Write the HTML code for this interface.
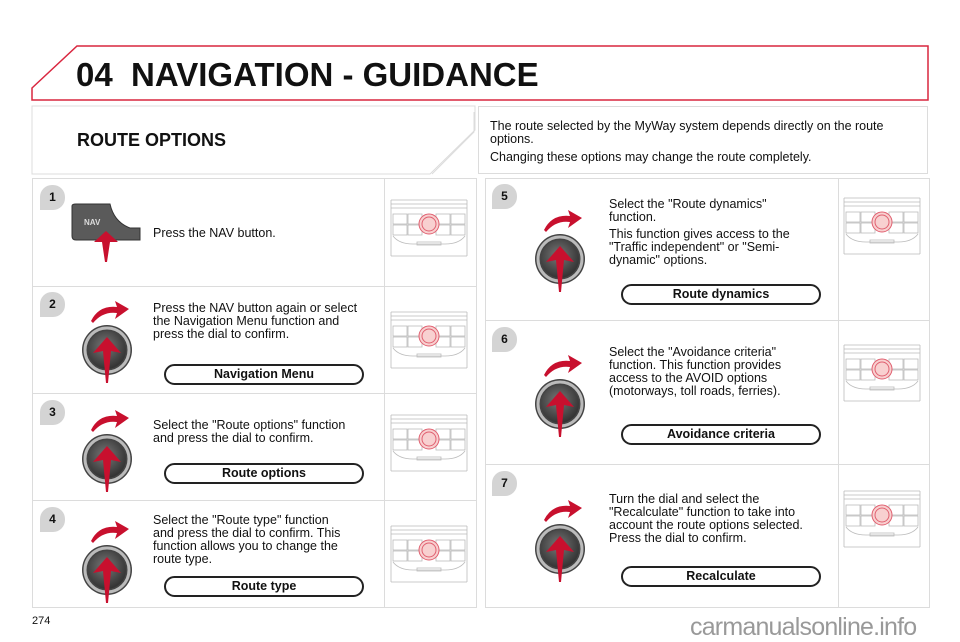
<!DOCTYPE html>
<html><head><meta charset="utf-8"><style>
*{margin:0;padding:0;box-sizing:border-box}
body{width:960px;height:640px;background:#fff;position:relative;overflow:hidden;font-family:"Liberation Sans",Arial,sans-serif;color:#111}
.a{position:absolute}
.box{position:absolute;border:1px solid #dcdcdc}
.t{position:absolute;font-size:12.5px;line-height:13px}
.pill{position:absolute;border:2px solid #222;border-radius:11px;font-weight:bold;font-size:12.5px;text-align:center;line-height:17px;height:21px}
.num{position:absolute;width:25px;height:25px;background:#d4d4d4;border-radius:12px 12px 12px 0;font-weight:bold;font-size:12px;text-align:center;line-height:24px}
.hl{position:absolute;height:1px;background:#dcdcdc}
.vl{position:absolute;width:1px;background:#dcdcdc}
</style></head><body>
<svg class="a" style="left:0;top:0" width="960" height="640">
<defs>
<radialGradient id="g" cx="0.45" cy="0.4" r="0.6"><stop offset="0" stop-color="#777"/><stop offset="1" stop-color="#333"/></radialGradient>
<symbol id="dial" viewBox="0 0 60 90" width="60" height="90">
<path d="M14 28 Q22 12 40 14 L38 8 L52 16 L38 26 L40 20 Q26 18 16 30 Z" fill="#c8102e"/>
<circle cx="30" cy="57" r="25" fill="#444"/>
<circle cx="30" cy="57" r="22" fill="none" stroke="#bbb" stroke-width="3"/>
<circle cx="30" cy="57" r="19" fill="url(#g)"/>
<path d="M30 44 L44 60 L34 58 L31 90 L29 90 L26 58 L16 60 Z" fill="#c8102e"/>
</symbol>
<symbol id="con" viewBox="0 0 80 60" width="80" height="60">
<g fill="none" stroke="#bbb" stroke-width="0.8">
<path d="M2 2 H78 M2 6 H78 M2 10 H78 M2 2 V58 M78 2 V58 M2 58 H78"/>
<rect x="4" y="16" width="14" height="10"/><rect x="19" y="16" width="14" height="10"/><rect x="47" y="16" width="14" height="10"/><rect x="62" y="16" width="14" height="10"/>
<rect x="4" y="27" width="14" height="10"/><rect x="19" y="27" width="14" height="10"/><rect x="47" y="27" width="14" height="10"/><rect x="62" y="27" width="14" height="10"/>
<path d="M4 38 Q10 46 24 46 H56 Q70 46 76 38"/><rect x="28" y="44" width="24" height="3"/>
</g>
<circle cx="40" cy="26" r="10" fill="#f8d0d0" stroke="#e06070"/><circle cx="40" cy="26" r="7" fill="none" stroke="#e06070"/>
</symbol>
</defs>
<path d="M32 88 L77 46 L928 46 L928 100 L32 100 Z" fill="none" stroke="#d9263f" stroke-width="1.5"/>
<path d="M32 106 H475 L475 118 L475 130 L430 174 H32 Z" fill="none" stroke="#dcdcdc"/>
<path d="M474 112 L474 132 L432 174" fill="none" stroke="#dcdcdc"/>
<rect x="478.5" y="106.5" width="449" height="67" fill="none" stroke="#dcdcdc"/>
<path d="M72 206 Q72 204 76 204 H110 Q114 222 130 228 H140 V240 H76 Q72 240 72 236 Z" fill="#5a5a5a" stroke="#333"/>
<text x="84" y="225" font-size="8" font-weight="bold" fill="#ddd" font-family="Liberation Sans">NAV</text>
<path d="M106 231 L118 242 L110 242 L107 262 L105 262 L102 242 L94 242 Z" fill="#c8102e"/>
<use href="#dial" x="77" y="293"/>
<use href="#dial" x="77" y="402"/>
<use href="#dial" x="77" y="513"/>
<use href="#dial" x="530" y="202"/>
<use href="#dial" x="530" y="347"/>
<use href="#dial" x="530" y="492"/>
<use href="#con" x="389" y="198"/>
<use href="#con" x="389" y="310"/>
<use href="#con" x="389" y="413"/>
<use href="#con" x="389" y="524"/>
<use href="#con" x="842" y="196"/>
<use href="#con" x="842" y="343"/>
<use href="#con" x="842" y="489"/>
</svg>
<div class="a" style="left:76px;top:56px;font-size:33px;font-weight:bold;line-height:38px;letter-spacing:0">04&nbsp; NAVIGATION - GUIDANCE</div>
<div class="a" style="left:77px;top:130px;font-size:18px;font-weight:bold">ROUTE OPTIONS</div>
<div class="t" style="left:490px;top:120px;width:415px">The route selected by the MyWay system depends directly on the route options.<div style="margin-top:5px">Changing these options may change the route completely.</div></div>

<div class="box" style="left:32px;top:178px;width:445px;height:430px"></div>
<div class="vl" style="left:384px;top:178px;height:430px"></div>
<div class="hl" style="left:32px;top:286px;width:445px"></div>
<div class="hl" style="left:32px;top:393px;width:445px"></div>
<div class="hl" style="left:32px;top:500px;width:445px"></div>

<div class="box" style="left:485px;top:178px;width:445px;height:430px"></div>
<div class="vl" style="left:838px;top:178px;height:430px"></div>
<div class="hl" style="left:485px;top:320px;width:445px"></div>
<div class="hl" style="left:485px;top:464px;width:445px"></div>

<div class="num" style="left:40px;top:185px">1</div>
<div class="num" style="left:40px;top:292px">2</div>
<div class="num" style="left:40px;top:400px">3</div>
<div class="num" style="left:40px;top:507px">4</div>
<div class="num" style="left:492px;top:184px">5</div>
<div class="num" style="left:492px;top:327px">6</div>
<div class="num" style="left:492px;top:471px">7</div>

<div class="t" style="left:153px;top:227px">Press the NAV button.</div>
<div class="t" style="left:153px;top:302px;width:216px">Press the NAV button again or select the Navigation Menu function and press the dial to confirm.</div>
<div class="pill" style="left:164px;top:364px;width:200px">Navigation Menu</div>
<div class="t" style="left:153px;top:419px;width:216px">Select the "Route options" function and press the dial to confirm.</div>
<div class="pill" style="left:164px;top:463px;width:200px">Route options</div>
<div class="t" style="left:153px;top:514px;width:198px">Select the "Route type" function and press the dial to confirm. This function allows you to change the route type.</div>
<div class="pill" style="left:164px;top:576px;width:200px">Route type</div>

<div class="t" style="left:609px;top:198px;width:190px">Select the "Route dynamics" function.<div style="margin-top:4px">This function gives access to the "Traffic independent" or "Semi-dynamic" options.</div></div>
<div class="pill" style="left:621px;top:284px;width:200px">Route dynamics</div>
<div class="t" style="left:609px;top:346px;width:195px">Select the "Avoidance criteria" function. This function provides access to the AVOID options (motorways, toll roads, ferries).</div>
<div class="pill" style="left:621px;top:424px;width:200px">Avoidance criteria</div>
<div class="t" style="left:609px;top:493px;width:205px">Turn the dial and select the "Recalculate" function to take into account the route options selected. Press the dial to confirm.</div>
<div class="pill" style="left:621px;top:566px;width:200px">Recalculate</div>

<div class="a" style="left:32px;top:615px;font-size:11px">274</div>
<div class="a" style="left:690px;top:613px;font-size:25px;color:#999;letter-spacing:-0.8px">carmanualsonline.info</div>
</body></html>
